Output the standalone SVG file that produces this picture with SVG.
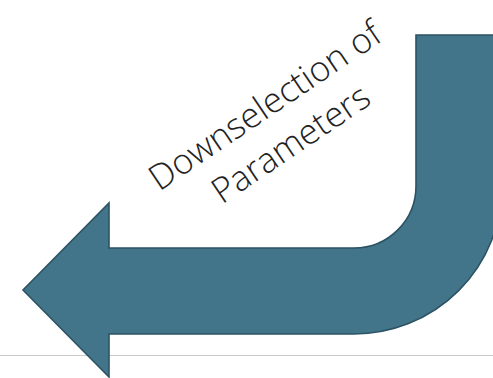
<svg xmlns="http://www.w3.org/2000/svg" width="493" height="378" viewBox="0 0 493 378">
<style>
.arrow{fill:#43758a;stroke:#2c5364;stroke-width:1.6;stroke-linejoin:miter}
.lbl{font-family:"Open Sans","DejaVu Sans",sans-serif;font-weight:300;font-size:35px;fill:#222;text-anchor:middle}
</style>
<rect width="493" height="378" fill="#fff"/>
<line x1="0" y1="355.5" x2="493" y2="355.5" stroke="#c8c8c8" stroke-width="1"/>
<g id="uturn-arrow">
<path class="arrow" d="M416,35 L502,35 L502,186 A148,148 0 0 1 354,334 L109,334 L109,377 L23,290 L109,203 L109,248 L354,248 A62,62 0 0 0 416,186 Z"/>
</g>
<g id="label" transform="translate(284,134) rotate(-34)">
<text class="lbl" x="0" y="-22">Downselection of</text>
<text class="lbl" x="0" y="24">Parameters</text>
</g>
</svg>
